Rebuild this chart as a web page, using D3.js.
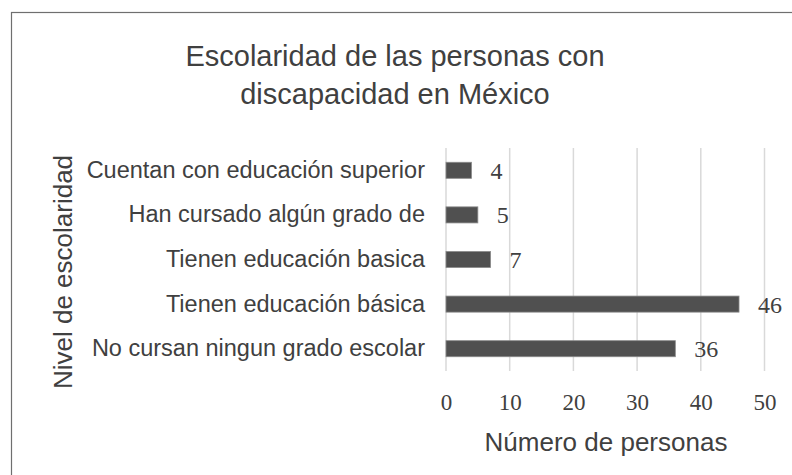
<!DOCTYPE html>
<html>
<head>
<meta charset="utf-8">
<script src="https://cdn.jsdelivr.net/npm/d3@7"></script>
<style>
  body { margin: 0; background: #fff; }
</style>
</head>
<body>
<div id="chart"></div>
<script>
// data
var categories = [
  "Cuentan con educación superior",
  "Han cursado algún grado de",
  "Tienen educación basica",
  "Tienen educación básica",
  "No cursan ningun grado escolar"
];
var values = [4, 5, 7, 46, 36];
var xTicks = [0, 10, 20, 30, 40, 50];
var titleLines = ["Escolaridad de las personas con", "discapacidad en México"];

var W = 792, H = 475;
var margin = {top: 148, right: 27, bottom: 104, left: 446};

var svg = d3.select("#chart")
  .append("svg")
    .attr("width", W)
    .attr("height", H);

// outer frame (right and bottom edges run off the picture)
svg.append("rect")
  .attr("x", 11.5).attr("y", 12.5)
  .attr("width", 800).attr("height", 500)
  .attr("fill", "none")
  .attr("stroke", "#6f6f6f")
  .attr("stroke-width", 1.2);

// title
svg.append("g").selectAll("text")
  .data(titleLines)
  .enter().append("text")
    .attr("x", 395)
    .attr("y", function(d, i) { return 66 + i * 38; })
    .attr("text-anchor", "middle")
    .attr("font-family", "Liberation Sans, Arial, sans-serif")
    .attr("font-size", 29)
    .attr("fill", "#404040")
    .text(function(d) { return d; });

var g = svg.append("g")
  .attr("transform", "translate(" + margin.left + "," + margin.top + ")");

var x = d3.scaleLinear()
  .domain([0, 50])
  .range([0, 318.5]);

var y = d3.scaleBand()
  .domain(categories)
  .range([0, 223])
  .paddingInner(0.64)
  .paddingOuter(0.32);

// gridlines
g.selectAll(".grid")
  .data(xTicks)
  .enter().append("line")
    .attr("x1", function(d) { return x(d); })
    .attr("x2", function(d) { return x(d); })
    .attr("y1", 0)
    .attr("y2", 223)
    .attr("stroke", "#d9d9d9")
    .attr("stroke-width", 1.5);

// x tick labels
var xAxis = g.append("g")
  .attr("transform", "translate(0,223)")
  .call(d3.axisBottom(x).tickValues(xTicks).tickSize(0).tickPadding(23));
xAxis.select(".domain").remove();
xAxis.selectAll("text")
  .attr("font-family", "Liberation Serif, Cambria, serif")
  .attr("font-size", 23)
  .attr("fill", "#404040");

// category labels
var yAxis = g.append("g")
  .call(d3.axisLeft(y).tickSize(0).tickPadding(21));
yAxis.select(".domain").remove();
yAxis.selectAll("text")
  .attr("font-family", "Liberation Sans, Arial, sans-serif")
  .attr("font-size", 23.5)
  .attr("fill", "#404040");

// bars
g.selectAll(".bar")
  .data(values)
  .enter().append("rect")
    .attr("x", x(0))
    .attr("y", function(d, i) { return y(categories[i]); })
    .attr("width", function(d) { return x(d) - x(0); })
    .attr("height", y.bandwidth())
    .attr("fill", "#505050")
    .attr("stroke", "#8a8a8a")
    .attr("stroke-width", 0.8);

// value labels
g.selectAll(".lbl")
  .data(values)
  .enter().append("text")
    .attr("x", function(d) { return x(d) + 19; })
    .attr("y", function(d, i) { return y(categories[i]) + y.bandwidth() / 2; })
    .attr("dy", "0.35em")
    .attr("font-family", "Liberation Serif, Cambria, serif")
    .attr("font-size", 24)
    .attr("fill", "#404040")
    .text(function(d) { return d; });

// axis titles
svg.append("text")
  .attr("x", 606)
  .attr("y", 451)
  .attr("text-anchor", "middle")
  .attr("font-family", "Liberation Sans, Arial, sans-serif")
  .attr("font-size", 26)
  .attr("fill", "#404040")
  .text("Número de personas");

svg.append("text")
  .attr("transform", "translate(72,272) rotate(-90)")
  .attr("text-anchor", "middle")
  .attr("font-family", "Liberation Sans, Arial, sans-serif")
  .attr("font-size", 26)
  .attr("fill", "#404040")
  .text("Nivel de escolaridad");
</script>
</body>
</html>
